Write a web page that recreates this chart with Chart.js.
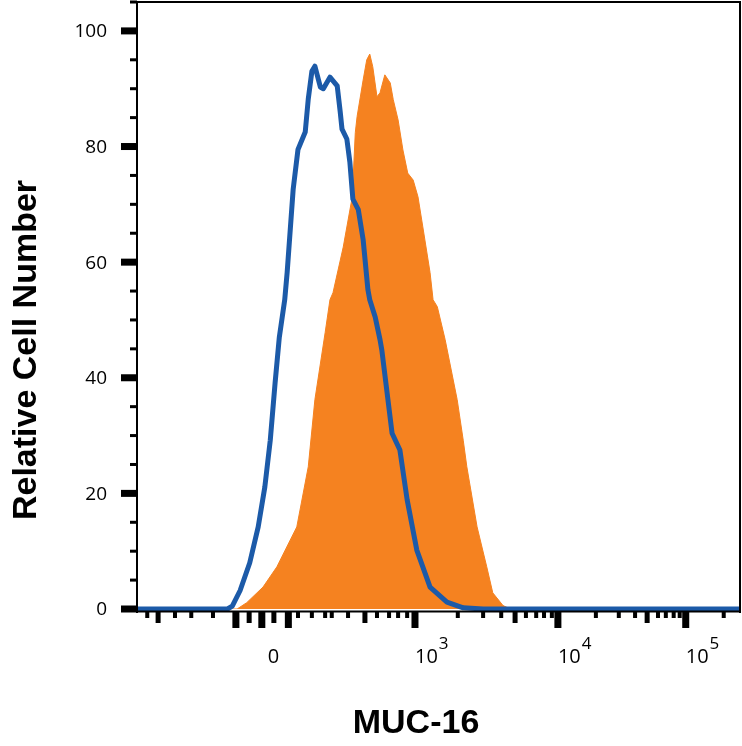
<!DOCTYPE html>
<html>
<head>
<meta charset="utf-8">
<script src="https://cdn.jsdelivr.net/npm/chart.js@4/dist/chart.umd.min.js"></script>
<style>
  html, body { margin: 0; padding: 0; background: #fff; }
  #wrap { width: 742px; height: 746px; position: relative; }
</style>
</head>
<body>
<div id="wrap"><canvas id="histChart"></canvas></div>
<script>
// Display channel (0-1000 across the axis) and relative cell number
const isotypeChannel = [0, 105, 146, 150, 158, 171, 187, 201, 212, 221, 229, 236, 245, 249, 259, 267, 279, 284, 290, 295, 304, 309, 320, 332, 337, 340, 348, 353, 358, 367, 375, 383, 386, 395, 403, 406, 423, 436, 448, 464, 486, 514, 541, 574, 1000];
const isotypeCount = [0, 0, 0, 0, 0.5, 3.2, 8, 14.2, 21.1, 29.2, 39.1, 47.0, 53.5, 58.2, 72.6, 79.5, 82.5, 88.2, 93.0, 93.9, 90.3, 90.0, 92.0, 90.5, 86.0, 83.0, 81.3, 77.3, 70.9, 69.1, 63.9, 55.2, 53.5, 50.5, 46.6, 44.8, 30.4, 27.5, 18.9, 10.2, 3.8, 1.2, 0.2, 0, 0];

const muc16Channel = [0, 154, 166, 182, 209, 232, 265, 284, 295, 312, 320, 325, 342, 357, 362, 365, 375, 381, 386, 391, 398, 403, 411, 420, 425, 433, 441, 449, 458, 466, 474, 486, 491, 498, 511, 531, 541, 547, 564, 580, 590, 607, 619, 1000];
const muc16Count = [0, 0, 0, 1.1, 3.8, 7.3, 14.2, 24.6, 36.2, 47.8, 53.5, 54.7, 62.6, 71.3, 82.4, 85.2, 91.5, 95.0, 96.0, 93.8, 88.6, 89.3, 92.4, 91.0, 88.1, 84.6, 79.4, 75.4, 74.2, 71.3, 66.1, 58.2, 53.5, 52.3, 46.6, 36.2, 29.2, 24.6, 14.2, 7.3, 2.8, 0.6, 0, 0];

// Axis ticks
const yMajorTicks = [0, 20, 40, 60, 80, 100];
const yMinorTicks = [5, 10, 15, 25, 30, 35, 45, 50, 55, 65, 70, 75, 85, 90, 95, 105];
const xTickLabels = ['0', '10^3', '10^4', '10^5'];
const xLabelChannels = [217, 461, 698, 910];
const xLongTicks = [164, 207, 251, 461, 698, 910];
const xMediumTicks = [35, 186, 227, 378, 627, 846];
const xShortTicks = [17, 63, 90, 126, 267, 290, 312, 323, 350, 398, 418, 433, 448, 532, 574, 604, 645, 662, 675, 688, 761, 799, 826, 864, 877, 890, 900, 973];

const xTitle = 'MUC-16';
const yTitle = 'Relative Cell Number';

function toPoints(xs, ys) {
  return xs.map((x, i) => ({ x: x, y: ys[i] }));
}

// Frame, ticks and labels in the flow cytometry style
const flowAxes = {
  id: 'flowAxes',
  afterDatasetsDraw(chart) {
    const { ctx, chartArea: a, scales: { x, y } } = chart;
    ctx.save();
    ctx.fillStyle = '#000';

    // box
    ctx.fillRect(a.left - 1, 1, 2, 612);
    ctx.fillRect(a.left - 1, 1, a.right - a.left + 2, 2);
    ctx.fillRect(a.right - 1, 1, 2, 612);
    ctx.fillRect(a.left - 1, 610.5, a.right - a.left + 2, 2);

    // y ticks
    yMajorTicks.forEach(v => {
      const py = y.getPixelForValue(v);
      ctx.fillRect(121, py - 3.5, 16, 7);
    });
    yMinorTicks.forEach(v => {
      const py = y.getPixelForValue(v);
      ctx.fillRect(130, py - 1.5, 7, 3);
    });

    // x ticks
    const drawX = (list, w, len) => list.forEach(v => {
      const px = x.getPixelForValue(v);
      ctx.fillRect(px - w / 2, 612, w, len);
    });
    drawX(xLongTicks, 7, 16);
    drawX(xMediumTicks, 5, 11);
    drawX(xShortTicks, 4, 6);

    // tick labels
    ctx.fillStyle = '#000';
    ctx.font = '19px "Open Sans", "Noto Sans", sans-serif';
    ctx.textAlign = 'right';
    ctx.textBaseline = 'middle';
    yMajorTicks.forEach(v => {
      ctx.fillText(String(v), 107, y.getPixelForValue(v) + 1);
    });

    ctx.textAlign = 'left';
    ctx.textBaseline = 'alphabetic';
    xTickLabels.forEach((lab, i) => {
      const px = x.getPixelForValue(xLabelChannels[i]);
      const [base, exp] = lab.split('^');
      ctx.font = '20px "Open Sans", "Noto Sans", sans-serif';
      ctx.fillText(base, px, 663);
      if (exp) {
        const w = ctx.measureText(base).width;
        ctx.font = '17px "Open Sans", "Noto Sans", sans-serif';
        ctx.fillText(exp, px + w + 1, 649);
      }
    });

    // axis titles
    ctx.font = 'bold 34px "Liberation Sans", Arial, sans-serif';
    ctx.textAlign = 'center';
    ctx.fillText(xTitle, 416, 733);

    ctx.translate(36, 350);
    ctx.rotate(-Math.PI / 2);
    ctx.fillText(yTitle, 0, 0);
    ctx.restore();
  }
};

const ctx = document.getElementById('histChart').getContext('2d');
new Chart(ctx, {
  type: 'scatter',
  data: {
    datasets: [
      {
        label: 'Isotype control',
        data: toPoints(isotypeChannel, isotypeCount),
        showLine: true,
        borderColor: '#1c5aa8',
        borderWidth: 5,
        borderJoinStyle: 'round',
        pointRadius: 0,
        fill: false,
        clip: false,
        order: 0
      },
      {
        label: 'MUC-16',
        data: toPoints(muc16Channel, muc16Count),
        showLine: true,
        borderColor: '#f58220',
        backgroundColor: '#f58220',
        borderWidth: 1,
        pointRadius: 0,
        fill: 'origin',
        order: 1
      }
    ]
  },
  options: {
    responsive: true,
    maintainAspectRatio: false,
    animation: false,
    layout: { padding: { left: 137, right: 2, top: 2, bottom: 137 } },
    plugins: {
      legend: { display: false },
      tooltip: { enabled: false }
    },
    scales: {
      x: { type: 'linear', min: 0, max: 1000, display: false },
      y: { min: 0, max: 105, display: false }
    }
  },
  plugins: [flowAxes]
});
</script>
</body>
</html>
